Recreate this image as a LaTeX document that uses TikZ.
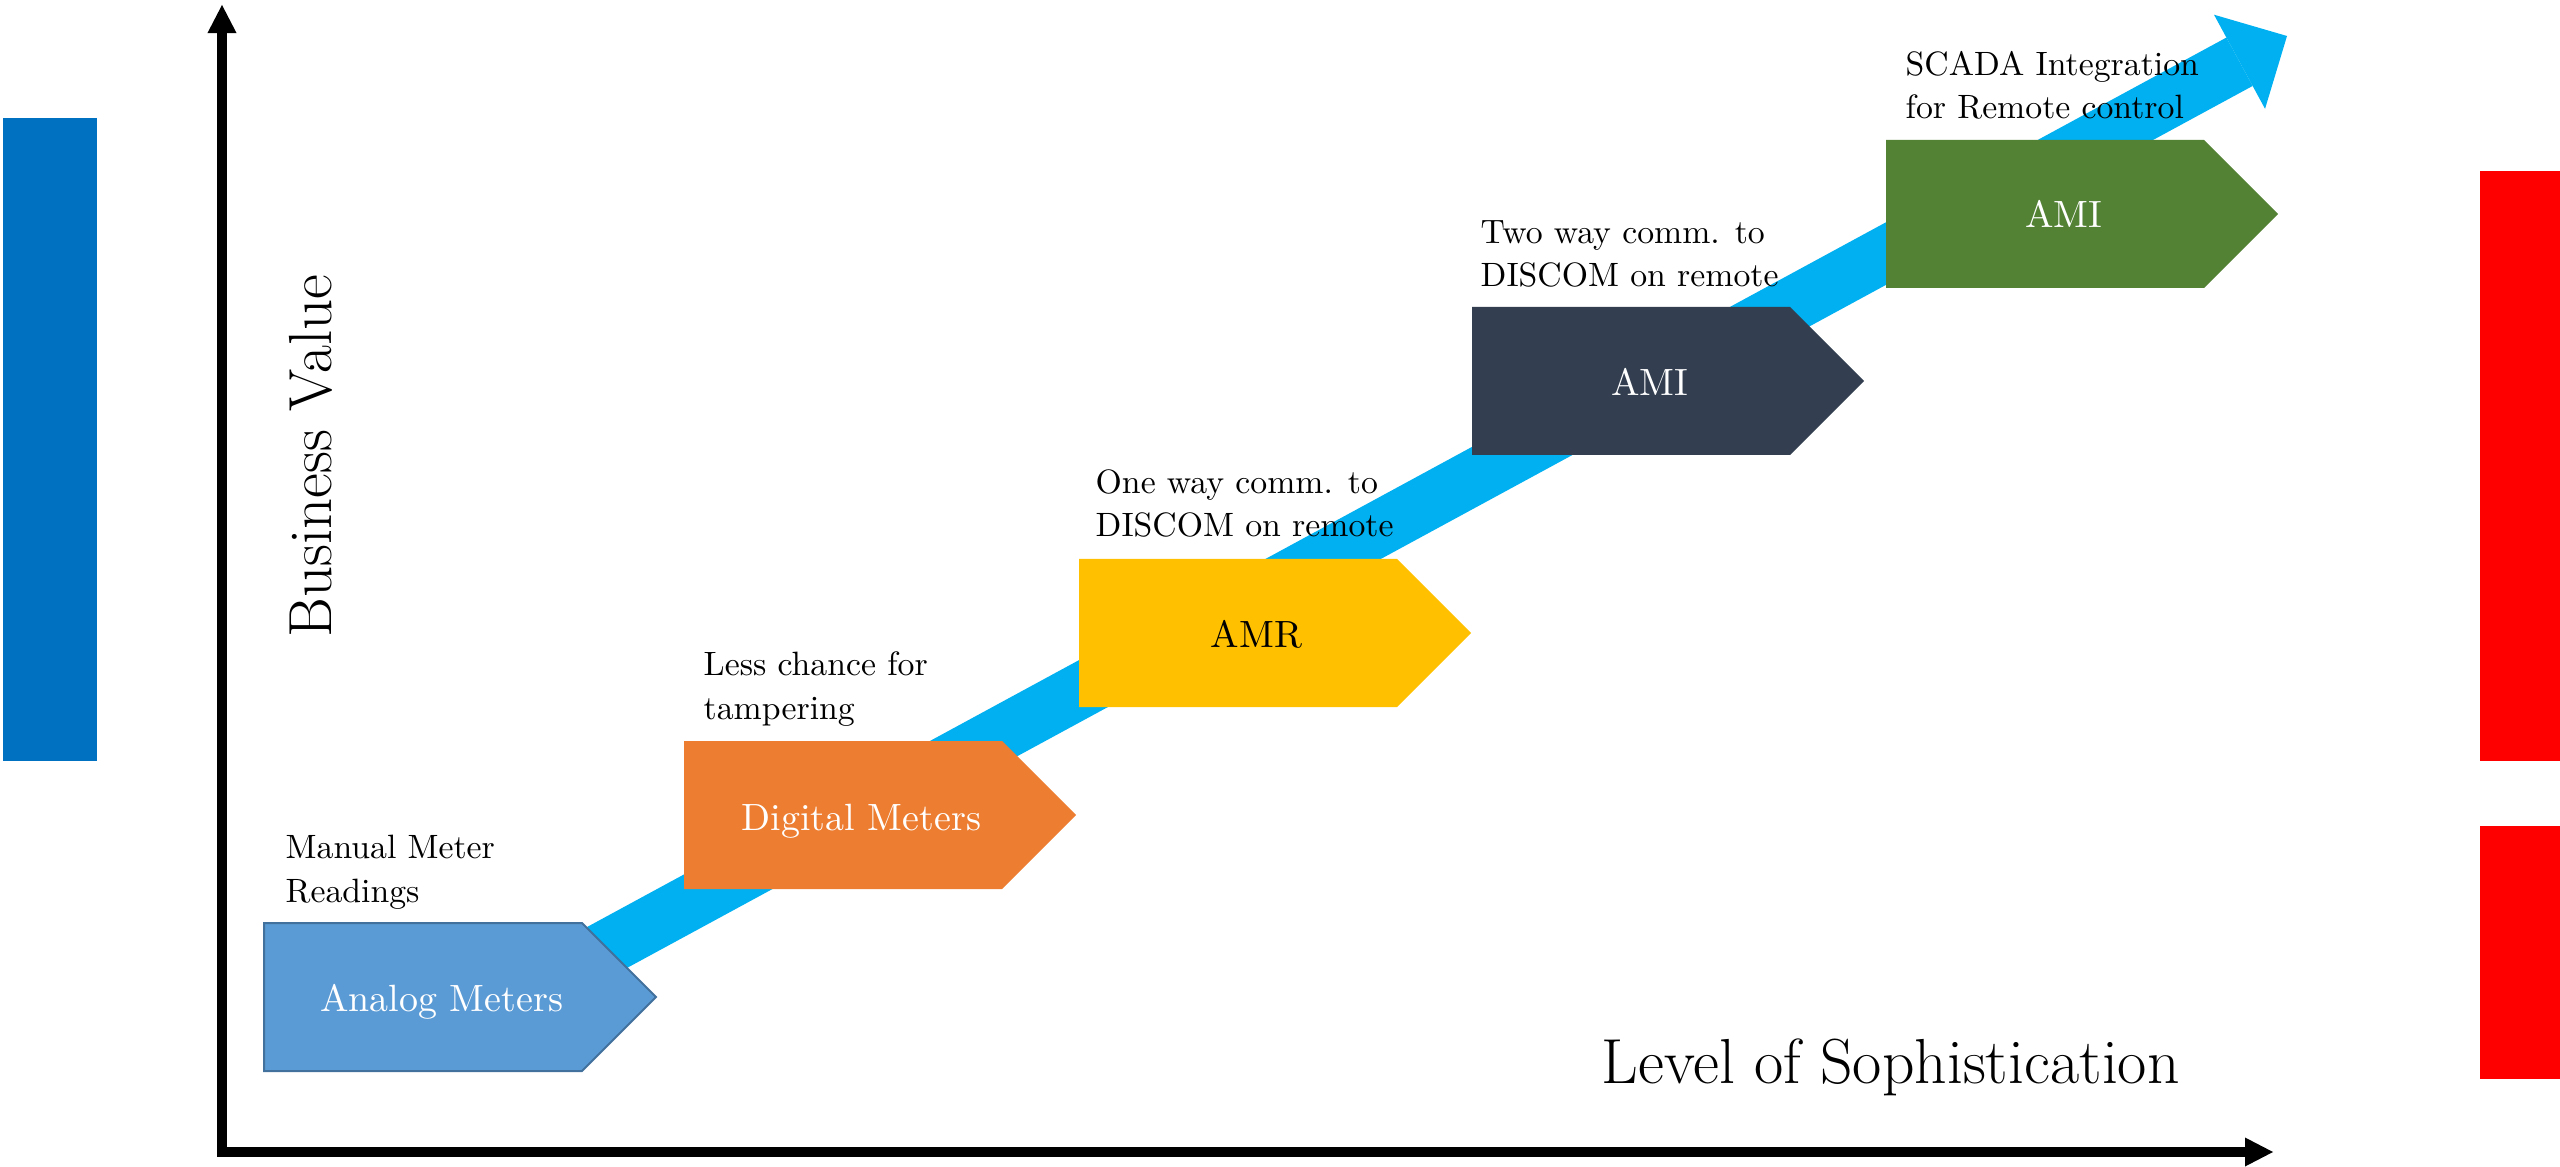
\documentclass[tikz,border=0pt]{standalone}
\usetikzlibrary{arrows.meta}

\definecolor{analogblue}{HTML}{5B9BD5}
\definecolor{analogedge}{HTML}{41719C}
\definecolor{digitalorange}{HTML}{ED7D31}
\definecolor{amryellow}{HTML}{FFC000}
\definecolor{amislate}{HTML}{333F50}
\definecolor{amigreen}{HTML}{548235}
\definecolor{trendcyan}{HTML}{00B0F0}
\definecolor{sidebarblue}{HTML}{0070C0}
\definecolor{sidebarred}{HTML}{FF0000}

\begin{document}
\begin{tikzpicture}[x=0.01cm, y=-0.01cm]
    \tikzstyle{axis}=[line width=1mm, line join=miter, {Triangle[length=2.8mm, width=2.9mm, line width=0pt]}-{Triangle[length=2.8mm, width=2.9mm, line width=0pt]}];
    \tikzstyle{trend}=[draw=trendcyan, line width=5.5mm, -{Triangle[length=5.4mm, width=10.7mm, line width=0pt, fill=trendcyan]}];
    \tikzstyle{stagelabel}=[font=\fontsize{10.8}{13}\selectfont, text=white, anchor=base, inner sep=0pt];
    \tikzstyle{note}=[font=\fontsize{9.6}{12.5}\selectfont, align=left, anchor=base west, inner sep=0pt];
    \tikzstyle{axislabel}=[font=\fontsize{18.1}{22}\selectfont, inner sep=0pt, anchor=base];

    \useasboundingbox (0,0) rectangle (2560,1167);

    % side bars
    \fill[sidebarblue] (3,118) rectangle (97,761);
    \fill[sidebarred] (2480,171) rectangle (2560,761);
    \fill[sidebarred] (2480,826) rectangle (2560,1079);

    % rising arrow, sits behind the stages
    \coordinate (trendstart) at (560,973);
    \coordinate (trendtip) at (2287,36);
    \draw[trend] (trendstart) -- (trendtip);

    % stages
    \filldraw[fill=analogblue, draw=analogedge, line width=0.2mm] (264,923) -- ++(318,0) -- ++(74,74) -- ++(-74,74) -- ++(-318,0) -- cycle;
    \node[stagelabel] (analog) at (441.5,1011) {Analog Meters};

    \fill[digitalorange] (684,741) -- ++(318,0) -- ++(74,74) -- ++(-74,74) -- ++(-318,0) -- cycle;
    \node[stagelabel] (digital) at (861.5,830) {Digital Meters};

    \fill[amryellow] (1079,559) -- ++(318,0) -- ++(74,74) -- ++(-74,74) -- ++(-318,0) -- cycle;
    \node[stagelabel, text=black] (amr) at (1256.5,647) {AMR};

    \fill[amislate] (1472,307) -- ++(318,0) -- ++(74,74) -- ++(-74,74) -- ++(-318,0) -- cycle;
    \node[stagelabel] (amioneway) at (1649.5,396) {AMI};

    \fill[amigreen] (1886,140) -- ++(318,0) -- ++(74,74) -- ++(-74,74) -- ++(-318,0) -- cycle;
    \node[stagelabel] (amitwoway) at (2063.5,228) {AMI};

    % notes above each stage (placed by the baseline of their last line)
    \node[note] (analognote) at (285,902) {Manual Meter\\Readings};
    \node[note] (digitalnote) at (703,719) {Less chance for\\tampering};
    \node[note] (amrnote) at (1095,537) {One way comm. to\\DISCOM on remote};
    \node[note] (amionewaynote) at (1480,287) {Two way comm. to\\DISCOM on remote};
    \node[note] (amitwowaynote) at (1905,119) {SCADA Integration\\for Remote control};

    % axes
    \coordinate (origin) at (222,1152);
    \coordinate (ytop) at (222,5);
    \coordinate (xend) at (2273,1152);
    \draw[axis] (ytop) -- (origin) -- (xend);

    \node[axislabel, anchor=base west] (xlabel) at (1601,1083) {Level of Sophistication};
    \node[axislabel, font=\fontsize{17.3}{21}\selectfont, rotate=90] (ylabel) at (331,456) {Business Value};
\end{tikzpicture}
\end{document}
